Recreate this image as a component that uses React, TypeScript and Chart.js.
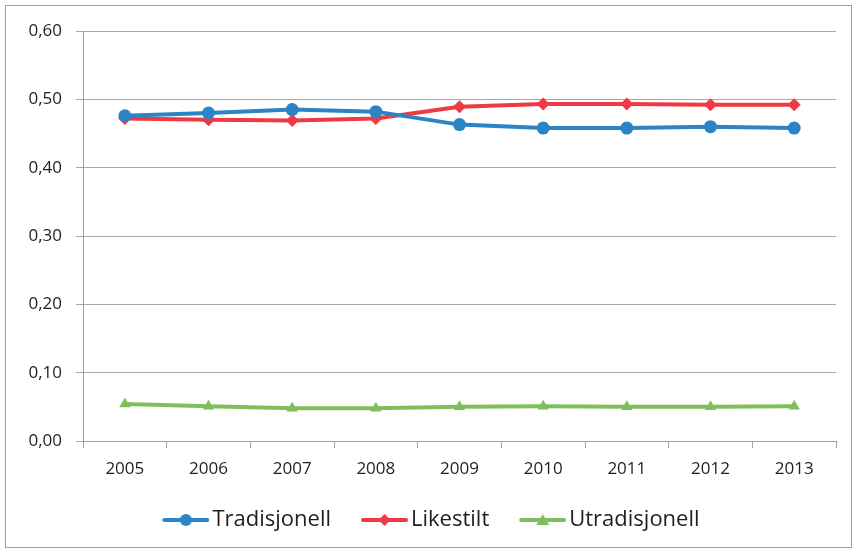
import React, { useEffect, useRef } from "react";
import { Chart, registerables } from "chart.js";

Chart.register(...registerables);

const years = ["2005", "2006", "2007", "2008", "2009", "2010", "2011", "2012", "2013"];
const tradisjonell = [0.476, 0.48, 0.485, 0.482, 0.463, 0.458, 0.458, 0.46, 0.458];
const likestilt = [0.472, 0.47, 0.469, 0.472, 0.489, 0.493, 0.493, 0.492, 0.492];
const utradisjonell = [0.054, 0.051, 0.048, 0.048, 0.05, 0.051, 0.05, 0.05, 0.051];

const seriesNames = ["Tradisjonell", "Likestilt", "Utradisjonell"];
const colors = ["#2a84c6", "#ee3a42", "#7fbe5c"];
const styles = ["circle", "rectRot", "triangle"];

const FONT = "'Open Sans', 'Noto Sans', sans-serif";

function legendIcon(color: string, style: string): HTMLCanvasElement {
  const c = document.createElement("canvas");
  c.width = 75;
  c.height = 14;
  const ctx = c.getContext("2d")!;
  ctx.strokeStyle = color;
  ctx.lineWidth = 4;
  ctx.lineCap = "round";
  ctx.beginPath();
  ctx.moveTo(30, 7);
  ctx.lineTo(73, 7);
  ctx.stroke();
  ctx.fillStyle = color;
  const cx = 51.5;
  ctx.beginPath();
  if (style === "circle") {
    ctx.arc(cx, 7, 6, 0, Math.PI * 2);
  } else if (style === "rectRot") {
    ctx.moveTo(cx, 1);
    ctx.lineTo(cx + 6, 7);
    ctx.lineTo(cx, 13);
    ctx.lineTo(cx - 6, 7);
    ctx.closePath();
  } else {
    ctx.moveTo(cx, 1);
    ctx.lineTo(cx + 6.5, 12);
    ctx.lineTo(cx - 6.5, 12);
    ctx.closePath();
  }
  ctx.fill();
  return c;
}

export default function App() {
  const ref = useRef<HTMLCanvasElement | null>(null);

  useEffect(() => {
    if (!ref.current) return;
    const data = [tradisjonell, likestilt, utradisjonell];
    const icons = colors.map((c, i) => legendIcon(c, styles[i]));
    const chart = new Chart(ref.current, {
      type: "line",
      data: {
        labels: years,
        datasets: seriesNames.map((name, i) => ({
          label: name,
          data: data[i],
          borderColor: colors[i],
          backgroundColor: colors[i],
          borderWidth: 4,
          pointStyle: styles[i] as any,
          pointRadius: 6.5,
          pointBorderWidth: 0,
          pointBackgroundColor: colors[i],
          tension: 0,
        })),
      },
      options: {
        animation: false,
        responsive: false,
        maintainAspectRatio: false,
        layout: { padding: { top: 25, right: 15, bottom: 6, left: 0 } },
        plugins: {
          tooltip: { enabled: false },
          legend: {
            position: "bottom",
            labels: {
              usePointStyle: true,
              pointStyleWidth: 59,
              boxHeight: 14,
              padding: 10,
              color: "#1f1f1f",
              font: { family: FONT, size: 22 },
              generateLabels: (ch: any) =>
                ch.data.datasets.map((ds: any, i: number) => ({
                  text: ds.label,
                  pointStyle: icons[i],
                  fillStyle: colors[i],
                  strokeStyle: colors[i],
                  lineWidth: 0,
                  hidden: false,
                  datasetIndex: i,
                  fontColor: "#1f1f1f",
                })),
            },
          },
        },
        scales: {
          x: {
            offset: true,
            grid: {
              offset: true,
              display: true,
              drawOnChartArea: false,
              tickLength: 7,
              color: "#a0a0a0",
            },
            border: { color: "#a0a0a0", width: 1 },
            ticks: {
              color: "#1f1f1f",
              font: { family: FONT, size: 17 },
              padding: 11,
              maxRotation: 0,
            },
            afterFit: (s: any) => {
              s.height = 58;
            },
          },
          y: {
            min: 0,
            max: 0.6,
            grid: { color: "#a8a8a8", tickLength: 7 },
            border: { color: "#a0a0a0", width: 1 },
            ticks: {
              stepSize: 0.1,
              color: "#1f1f1f",
              padding: 14,
              font: { family: FONT, size: 17 },
              callback: (v: any) => Number(v).toFixed(2).replace(".", ","),
            },
            afterFit: (s: any) => {
              s.width = 77;
            },
          },
        },
      },
    });
    return () => chart.destroy();
  }, []);

  return (
    <div
      style={{
        position: "absolute",
        left: 5,
        top: 5,
        width: 847,
        height: 543,
        border: "1px solid #a0a0a0",
        boxSizing: "border-box",
        background: "#fff",
      }}
    >
      <canvas ref={ref} width={845} height={541} style={{ display: "block" }} />
    </div>
  );
}
